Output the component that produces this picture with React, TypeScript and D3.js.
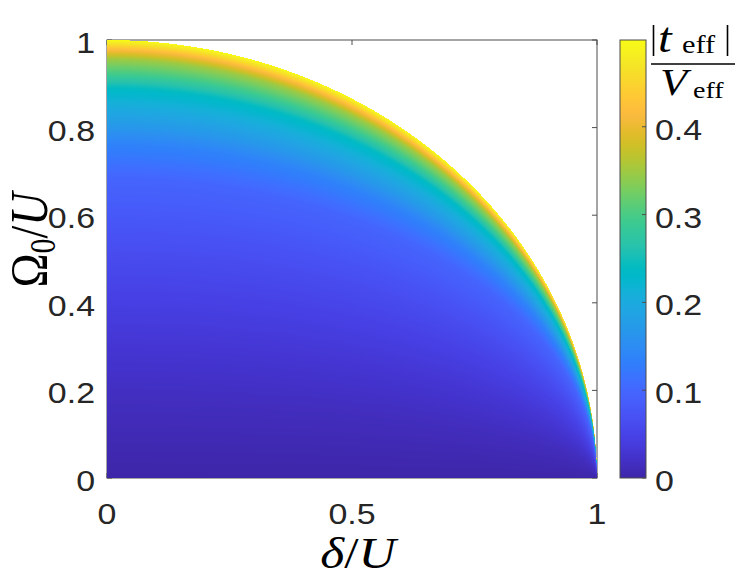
import React from 'react';
import * as d3 from 'd3';

// MATLAB parula colormap (64 entries)
const PARULA_RGB: number[][] = [
  [0.2422, 0.1504, 0.6603], [0.2504, 0.1650, 0.7076], [0.2578, 0.1818, 0.7511], [0.2647, 0.1978, 0.7952],
  [0.2706, 0.2147, 0.8364], [0.2751, 0.2342, 0.8710], [0.2783, 0.2559, 0.8991], [0.2803, 0.2782, 0.9221],
  [0.2813, 0.3006, 0.9414], [0.2810, 0.3228, 0.9579], [0.2795, 0.3447, 0.9717], [0.2760, 0.3667, 0.9829],
  [0.2699, 0.3892, 0.9906], [0.2602, 0.4123, 0.9952], [0.2440, 0.4358, 0.9988], [0.2206, 0.4603, 0.9973],
  [0.1963, 0.4847, 0.9892], [0.1834, 0.5074, 0.9798], [0.1786, 0.5289, 0.9682], [0.1764, 0.5499, 0.9520],
  [0.1687, 0.5703, 0.9359], [0.1540, 0.5902, 0.9218], [0.1460, 0.6091, 0.9079], [0.1380, 0.6276, 0.8973],
  [0.1248, 0.6459, 0.8883], [0.1113, 0.6635, 0.8763], [0.0952, 0.6798, 0.8598], [0.0689, 0.6948, 0.8394],
  [0.0297, 0.7082, 0.8163], [0.0036, 0.7203, 0.7917], [0.0067, 0.7312, 0.7660], [0.0433, 0.7411, 0.7394],
  [0.0964, 0.7500, 0.7120], [0.1408, 0.7584, 0.6842], [0.1717, 0.7670, 0.6554], [0.1938, 0.7758, 0.6251],
  [0.2161, 0.7843, 0.5923], [0.2470, 0.7918, 0.5567], [0.2906, 0.7973, 0.5188], [0.3406, 0.8008, 0.4789],
  [0.3909, 0.8029, 0.4354], [0.4456, 0.8024, 0.3909], [0.5044, 0.7993, 0.3480], [0.5616, 0.7942, 0.3045],
  [0.6174, 0.7876, 0.2612], [0.6720, 0.7793, 0.2227], [0.7242, 0.7698, 0.1910], [0.7738, 0.7598, 0.1646],
  [0.8203, 0.7498, 0.1535], [0.8634, 0.7406, 0.1596], [0.9035, 0.7330, 0.1774], [0.9393, 0.7288, 0.2100],
  [0.9728, 0.7298, 0.2394], [0.9956, 0.7434, 0.2371], [0.9970, 0.7659, 0.2199], [0.9952, 0.7893, 0.2028],
  [0.9892, 0.8136, 0.1885], [0.9786, 0.8386, 0.1766], [0.9676, 0.8639, 0.1643], [0.9610, 0.8890, 0.1537],
  [0.9597, 0.9135, 0.1423], [0.9628, 0.9373, 0.1265], [0.9691, 0.9606, 0.1064], [0.9769, 0.9839, 0.0805],
];

const xTickValues = [0, 0.5, 1];
const xTickLabels = ['0', '0.5', '1'];
const yTickValues = [0, 0.2, 0.4, 0.6, 0.8, 1];
const yTickLabels = ['0', '0.2', '0.4', '0.6', '0.8', '1'];
const cbTickValues = [0, 0.1, 0.2, 0.3, 0.4];
const cbTickLabels = ['0', '0.1', '0.2', '0.3', '0.4'];
const colorMin = 0;
const colorMax = 0.4988;

// |t_eff|/V_eff read from the picture as a function of the height within
// each column, relative to the arc height sqrt(1 - (δ/U)^2)
const profileFraction = [0, 0.18, 0.34, 0.5, 0.68, 0.76, 0.81, 0.856, 0.888, 0.925, 0.957, 0.979, 0.986, 1];
const profileValue = [0, 0.015, 0.035, 0.06, 0.095, 0.135, 0.175, 0.21, 0.235, 0.3, 0.35, 0.42, 0.45, 0.4988];

const W = 747;
const H = 580;
const AX = { left: 107, right: 597, top: 40, bottom: 478 };
const CB = { left: 620, right: 646, top: 40, bottom: 478 };
const SX = 1.17;
const TICK_FONT = "'Liberation Sans', Arial, Helvetica, sans-serif";
const TEX_FONT = "'Liberation Serif', 'Times New Roman', serif";

const parula = d3
  .scaleLinear<string>()
  .domain(PARULA_RGB.map((_, i) => i / (PARULA_RGB.length - 1)))
  .range(PARULA_RGB.map((c) => d3.rgb(c[0] * 255, c[1] * 255, c[2] * 255).formatHex()))
  .interpolate(d3.interpolateRgb)
  .clamp(true);

const colorNorm = d3.scaleLinear().domain([colorMin, colorMax]).range([0, 1]).clamp(true);
const profile = d3.scaleLinear().domain(profileFraction).range(profileValue).clamp(true);

const x = d3.scaleLinear().domain([0, 1]).range([AX.left, AX.right]);
const y = d3.scaleLinear().domain([0, 1]).range([AX.bottom, AX.top]);
const cy = d3.scaleLinear().domain([colorMin, colorMax]).range([CB.bottom, CB.top]);

export default function App() {
  const fieldStops = d3.range(0, 1.00001, 0.004).map((t) => ({
    offset: t,
    color: parula(colorNorm(profile(t))),
  }));
  const cbStops = d3.range(0, 1.00001, 1 / 126).map((t) => ({ offset: t, color: parula(t) }));

  const columns = d3.range(Math.round(x(0)), Math.round(x(1))).map((px) => {
    const d = x.invert(px + 0.5);
    const top = Math.sqrt(Math.max(0, 1 - d * d));
    return { px, top };
  });

  const txt = (
    key: string,
    px: number,
    py: number,
    content: React.ReactNode,
    opts: { anchor?: string; size?: number; family?: string; fill?: string; italic?: boolean; rotate?: number } = {}
  ) => {
    const rot = opts.rotate ?? 0;
    const scale = rot === 0 ? `scale(${SX},1)` : `scale(1,${SX})`;
    return (
      <text
        key={key}
        transform={`translate(${px},${py}) rotate(${rot}) ${scale}`}
        textAnchor={opts.anchor ?? 'start'}
        fontSize={opts.size ?? 29}
        fontFamily={opts.family ?? TICK_FONT}
        fill={opts.fill ?? '#262626'}
        fontStyle={opts.italic ? 'italic' : 'normal'}
      >
        {content}
      </text>
    );
  };

  return (
    <svg
      width={W}
      height={H}
      viewBox={`0 0 ${W} ${H}`}
      style={{ position: 'absolute', left: 0, top: 0, background: '#fff' }}
    >
      <defs>
        <linearGradient id="field" x1="0" y1="1" x2="0" y2="0">
          {fieldStops.map((s, i) => (
            <stop key={i} offset={s.offset} stopColor={s.color} />
          ))}
        </linearGradient>
        <linearGradient id="cbar" x1="0" y1="1" x2="0" y2="0">
          {cbStops.map((s, i) => (
            <stop key={i} offset={s.offset} stopColor={s.color} />
          ))}
        </linearGradient>
      </defs>

      {/* axes box (beneath the image, as in MATLAB) */}
      <rect x={AX.left} y={AX.top} width={AX.right - AX.left} height={AX.bottom - AX.top} fill="none" stroke="#4d4d4d" strokeWidth={1} />
      {yTickValues.map((v) => (
        <g key={'yt' + v}>
          <line x1={AX.left} x2={AX.left + 5} y1={y(v)} y2={y(v)} stroke="#4d4d4d" />
          <line x1={AX.right} x2={AX.right - 5} y1={y(v)} y2={y(v)} stroke="#4d4d4d" />
        </g>
      ))}
      {xTickValues.map((v) => (
        <g key={'xt' + v}>
          <line x1={x(v)} x2={x(v)} y1={AX.bottom} y2={AX.bottom - 5} stroke="#4d4d4d" />
          <line x1={x(v)} x2={x(v)} y1={AX.top} y2={AX.top + 5} stroke="#4d4d4d" />
        </g>
      ))}

      {/* heat map: one column per pixel inside the quarter disk */}
      <g shapeRendering="crispEdges">
        {columns
          .filter((c) => AX.bottom - y(c.top) > 0.5)
          .map((c) => (
            <rect key={c.px} x={c.px} y={y(c.top)} width={1} height={AX.bottom - y(c.top)} fill="url(#field)" />
          ))}
      </g>

      {/* tick labels */}
      {xTickValues.map((v, i) => txt('xl' + v, x(v), AX.bottom + 46, xTickLabels[i], { anchor: 'middle' }))}
      {yTickValues.map((v, i) => txt('yl' + v, 95, y(v) + 13, yTickLabels[i], { anchor: 'end' }))}

      {/* axis labels */}
      {txt(
        'xlab',
        358,
        568,
        <>
          <tspan fontStyle="italic">δ</tspan>
          <tspan>/</tspan>
          <tspan fontStyle="italic">U</tspan>
        </>,
        { anchor: 'middle', size: 44, family: TEX_FONT, fill: '#000' }
      )}
      {txt(
        'ylab',
        47,
        240,
        <>
          <tspan>Ω</tspan>
          <tspan fontSize={30} dy={7}>0</tspan>
          <tspan dy={-7}>/</tspan>
          <tspan fontStyle="italic">U</tspan>
        </>,
        { anchor: 'middle', size: 46, family: TEX_FONT, fill: '#000', rotate: -90 }
      )}

      {/* colorbar */}
      <rect x={CB.left} y={CB.top} width={CB.right - CB.left} height={CB.bottom - CB.top} fill="url(#cbar)" stroke="#4d4d4d" strokeWidth={1} />
      {cbTickValues.map((v, i) => (
        <g key={'cb' + v}>
          <line x1={CB.right} x2={CB.right - 4} y1={cy(v)} y2={cy(v)} stroke="#4d4d4d" />
          {txt('cbl' + v, 655, cy(v) + 13, cbTickLabels[i])}
        </g>
      ))}

      {/* colorbar title: |t_eff| / V_eff */}
      <line x1={653.5} x2={653.5} y1={25} y2={56} stroke="#000" strokeWidth={1.6} />
      <line x1={727.5} x2={727.5} y1={25} y2={56} stroke="#000" strokeWidth={1.6} />
      {txt('tnum', 658, 52, 't', { size: 42, family: TEX_FONT, fill: '#000', italic: true })}
      {txt('tsub', 682, 53, 'eff', { size: 26, family: TEX_FONT, fill: '#000' })}
      <line x1={651} x2={735} y1={64} y2={64} stroke="#000" strokeWidth={1.5} />
      {txt('vden', 660, 95, 'V', { size: 38, family: TEX_FONT, fill: '#000', italic: true })}
      {txt('vsub', 693, 98, 'eff', { size: 24, family: TEX_FONT, fill: '#000' })}
    </svg>
  );
}
